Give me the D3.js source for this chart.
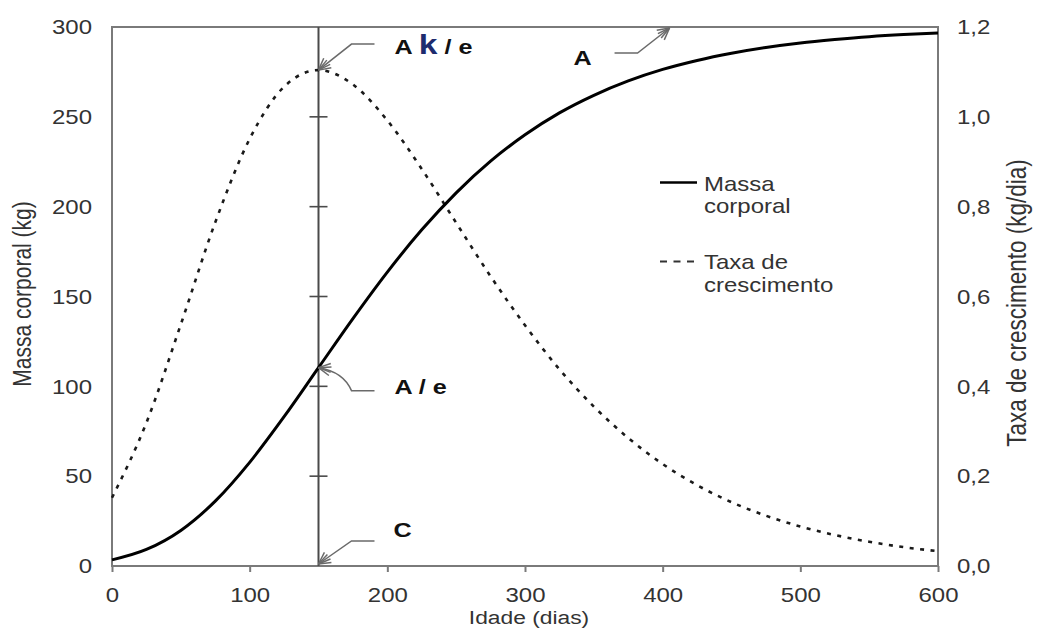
<!DOCTYPE html>
<html>
<head>
<meta charset="utf-8">
<script src="https://cdn.jsdelivr.net/npm/d3@7"></script>
<style>
  html, body { margin: 0; padding: 0; background: #fff; }
  svg text { font-family: "Liberation Sans", Arial, Helvetica, sans-serif; }
</style>
</head>
<body>
<svg id="chart" width="1037" height="628"></svg>
<script>
// Growth of body mass and daily growth rate with age
const days = [0, 25, 50, 75, 100, 125, 150, 175, 200, 225, 250, 275, 300,
              325, 350, 375, 400, 425, 450, 475, 500, 525, 550, 575, 600];
const bodyMass = [3.4, 9.2, 19.8, 36.1, 57.7, 83.1, 110.4, 137.7, 163.6, 187.1, 207.7, 225.3, 240.0,
                  252.2, 262.0, 270.0, 276.4, 281.4, 285.4, 288.6, 291.1, 293.0, 294.6, 295.8, 296.7];
const growthRate = [0.152, 0.319, 0.538, 0.765, 0.951, 1.067, 1.104, 1.072, 0.992, 0.884, 0.764, 0.645, 0.536,
                    0.438, 0.355, 0.285, 0.227, 0.180, 0.142, 0.112, 0.088, 0.069, 0.054, 0.042, 0.033];

const dayTicks = [0, 100, 200, 300, 400, 500, 600];
const massTicks = [0, 50, 100, 150, 200, 250, 300];
const rateTicks = [0, 0.2, 0.4, 0.6, 0.8, 1.0, 1.2];

// inflection point marker
const markerDay = 150;
const markerTicks = [50, 100, 150, 200, 250];
const asymptoteMass = 300;        // A
const inflectionMass = 110.4;     // A / e
const peakRate = 1.104;           // A k / e
const asymptoteArrowDay = 405;

const legendMass = ["Massa", "corporal"];
const legendRate = ["Taxa de", "crescimento"];
const xTitle = "Idade (dias)";
const yTitleLeft = "Massa corporal (kg)";
const yTitleRight = "Taxa de crescimento (kg/dia)";

const L = 112, R = 938, T = 27, B = 566;
const SX = 1.2;            // horizontal stretch of lettering
const axisColor = "#7a7a7a";
const textColor = "#333";

const svg = d3.select("#chart");

const x = d3.scaleLinear().domain([0, 600]).range([L, R]);
const yM = d3.scaleLinear().domain([0, 300]).range([B, T]);
const yR = d3.scaleLinear().domain([0, 1.2]).range([B, T]);

const fmtRate = d => d.toFixed(1).replace(".", ",");

function place(sel, px, py, rot) {
  sel.attr("transform", `translate(${px},${py}) scale(${SX},1)` + (rot ? ` rotate(${rot})` : ""));
  return sel;
}

// axes
const gx = svg.append("g").attr("transform", `translate(0,${B})`)
  .call(d3.axisBottom(x).tickValues(dayTicks).tickSize(6).tickSizeOuter(0).tickPadding(0));
gx.select(".domain").remove();
gx.selectAll(".tick line").attr("stroke", axisColor).attr("stroke-width", 2);
gx.selectAll(".tick text")
  .attr("y", 22).attr("dy", "0.71em")
  .attr("font-size", 20).attr("fill", textColor)
  .attr("transform", `scale(${SX},1)`);

const gl = svg.append("g").attr("transform", `translate(${L},0)`)
  .call(d3.axisLeft(yM).tickValues(massTicks).tickSize(0));
gl.select(".domain").remove();
gl.selectAll(".tick text")
  .attr("x", -20 / SX).attr("dy", "0.34em")
  .attr("font-size", 20).attr("fill", textColor)
  .attr("transform", `scale(${SX},1)`);

const gr = svg.append("g").attr("transform", `translate(${R},0)`)
  .call(d3.axisRight(yR).tickValues(rateTicks).tickFormat(fmtRate).tickSize(0));
gr.select(".domain").remove();
gr.selectAll(".tick text")
  .attr("x", 19 / SX).attr("dy", "0.34em")
  .attr("font-size", 20).attr("fill", textColor)
  .attr("transform", `scale(${SX},1)`);

// plot frame
svg.append("rect")
  .attr("x", L).attr("y", T).attr("width", R - L).attr("height", B - T)
  .attr("fill", "none").attr("stroke", axisColor).attr("stroke-width", 2);

// vertical marker at the inflection point
const mx = x(markerDay);
svg.append("line")
  .attr("x1", mx).attr("x2", mx).attr("y1", yM(0)).attr("y2", yM(300))
  .attr("stroke", "#4a4a4a").attr("stroke-width", 2);
svg.append("g").selectAll("line").data(markerTicks).join("line")
  .attr("x1", mx - 9).attr("x2", mx + 9)
  .attr("y1", d => yM(d)).attr("y2", d => yM(d))
  .attr("stroke", "#4a4a4a").attr("stroke-width", 1.6);

// series
const massPts = days.map((d, i) => [d, bodyMass[i]]);
const ratePts = days.map((d, i) => [d, growthRate[i]]);

svg.append("path")
  .datum(ratePts)
  .attr("fill", "none").attr("stroke", "#1a1a1a").attr("stroke-width", 2.6)
  .attr("stroke-dasharray", "4,6.5")
  .attr("d", d3.line().x(d => x(d[0])).y(d => yR(d[1])).curve(d3.curveMonotoneX));

svg.append("path")
  .datum(massPts)
  .attr("fill", "none").attr("stroke", "#000").attr("stroke-width", 3)
  .attr("d", d3.line().x(d => x(d[0])).y(d => yM(d[1])).curve(d3.curveMonotoneX));

// annotation arrows: tail end -> knee -> tip, open fanned head
function arrow(tip, knee, tail, curved) {
  const g = svg.append("g").attr("fill", "none").attr("stroke", "#6a6a6a").attr("stroke-width", 1.5);
  let d = `M${tail[0]},${tail[1]} L${knee[0]},${knee[1]}`;
  const ctrl = [knee[0] - 8, tip[1] + 4];
  d += curved ? ` Q${ctrl[0]},${ctrl[1]} ${tip[0]},${tip[1]}` : ` L${tip[0]},${tip[1]}`;
  g.append("path").attr("d", d);
  const ref = curved ? ctrl : knee;
  const vx = ref[0] - tip[0], vy = ref[1] - tip[1];
  const len = Math.hypot(vx, vy), ux = vx / len, uy = vy / len;
  [-28, -12, 12, 28].forEach(a => {
    const r = a * Math.PI / 180, hl = 13;
    const bx = ux * Math.cos(r) - uy * Math.sin(r);
    const by = ux * Math.sin(r) + uy * Math.cos(r);
    g.append("line")
      .attr("x1", tip[0]).attr("y1", tip[1])
      .attr("x2", tip[0] + bx * hl).attr("y2", tip[1] + by * hl);
  });
}

function label(txt, px, py) {
  return place(svg.append("text")
    .attr("font-size", 21).attr("font-weight", "bold").attr("fill", "#111")
    .text(txt), px, py);
}

// A k / e at the growth-rate peak
const pPeak = [mx, yR(peakRate)];
arrow(pPeak, [pPeak[0] + 33, pPeak[1] - 26], [pPeak[0] + 56, pPeak[1] - 26], false);
const akLabel = place(svg.append("text")
  .attr("font-size", 21).attr("font-weight", "bold").attr("fill", "#111"), pPeak[0] + 76, pPeak[1] - 16);
akLabel.append("tspan").text("A ");
akLabel.append("tspan").attr("font-size", 28).attr("fill", "#1d2b6e").text("k");
akLabel.append("tspan").text(" / e");

// A / e at the inflection on the mass curve
const pInf = [mx, yM(inflectionMass)];
arrow(pInf, [pInf[0] + 33, pInf[1] + 23], [pInf[0] + 56, pInf[1] + 23], true);
label("A / e", pInf[0] + 76, pInf[1] + 26);

// C at the base of the marker
const pC = [mx, yM(0) - 2];
arrow(pC, [pC[0] + 33, pC[1] - 23], [pC[0] + 56, pC[1] - 23], false);
label("C", pC[0] + 75, pC[1] - 27);

// A at the asymptote
const pA = [x(asymptoteArrowDay), yM(asymptoteMass) + 1];
arrow(pA, [pA[0] - 32, pA[1] + 25], [pA[0] - 55, pA[1] + 25], false);
label("A", pA[0] - 96, pA[1] + 37);

// legend
const lg = svg.append("g");
lg.append("line").attr("x1", 660).attr("x2", 697).attr("y1", 182.5).attr("y2", 182.5)
  .attr("stroke", "#000").attr("stroke-width", 2.6);
lg.append("line").attr("x1", 660).attr("x2", 697).attr("y1", 261.5).attr("y2", 261.5)
  .attr("stroke", "#333").attr("stroke-width", 1.8).attr("stroke-dasharray", "7,6.5");
legendMass.forEach((t, i) => place(lg.append("text").attr("font-size", 20).attr("fill", textColor).text(t), 704, 190.5 + i * 22.5));
legendRate.forEach((t, i) => place(lg.append("text").attr("font-size", 20).attr("fill", textColor).text(t), 704, 268.5 + i * 23));

// axis titles
place(svg.append("text").attr("font-size", 19).attr("fill", textColor)
  .attr("text-anchor", "middle").text(xTitle), 529, 624);
place(svg.append("text").attr("font-size", 21).attr("fill", textColor)
  .attr("text-anchor", "middle").text(yTitleLeft), 31, 294, -90);
place(svg.append("text").attr("font-size", 22.5).attr("fill", textColor)
  .attr("text-anchor", "middle").text(yTitleRight), 1026, 303, -90);
</script>
</body>
</html>
